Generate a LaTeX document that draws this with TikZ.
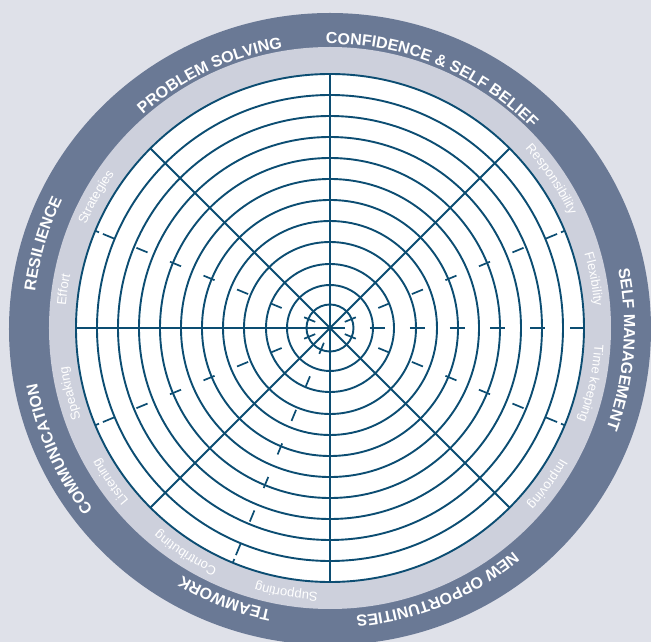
\documentclass[tikz,border=0pt]{standalone}
\usepackage{fontspec}
\setmainfont{Liberation Sans}
\usetikzlibrary{decorations.text}

\definecolor{pagebg}{HTML}{DFE1E9}
\definecolor{outerband}{HTML}{6A7995}
\definecolor{innerband}{HTML}{CDD0DC}
\definecolor{gridline}{HTML}{0C4D72}

\newcommand\catfont{\color{white}\fontsize{16}{16}\selectfont\bfseries}
\newcommand\subfont{\color{white}\fontsize{13}{13}\selectfont}

% text set clockwise along an arc centred on the given angle
% #1 font, #2 centre angle, #3 baseline radius, #4 text
\newcommand\ringtext[4]{%
  \path[decorate, decoration={text along path, text={|#1|#4}, text align=center}]
    ({#2+70}:#3pt) arc[start angle={#2+70}, end angle={#2-70}, radius=#3pt];}

\begin{document}
\begin{tikzpicture}[x=1pt, y=1pt,
  gridpen/.style={draw=gridline, line width=1.9pt},
  tickpen/.style={draw=gridline, line width=1.7pt}]

% page and bands
\fill[pagebg] (-330,-314) rectangle (321,328);
\useasboundingbox (-330,-314) rectangle (321,328);
\fill[outerband] (0,-1) ellipse [x radius=321pt, y radius=316pt];
\fill[innerband] (0,0) circle [radius=281pt];
\fill[white] (0,0) circle [radius=254pt];

% rating rings
\foreach \r in {254,233,212,191,170,149,128,107,86,64,43,23.5}
  \draw[gridpen] (0,0) circle [radius=\r pt];

% solid spokes
\foreach \a in {45,90,135,180,225,270,315}
  \draw[gridpen] (0,0) -- (\a:254pt);

% dashed spoke along the horizontal
\foreach \s in {0,40,80,120,160,200,240}
  \draw[tickpen] (0:{\s}) -- (0:{min(\s+15,254)});

% dashed spokes between the sub-skills
\foreach \a in {22.5,157.5,202.5,247.5,337.5}{
  \foreach \k in {0,...,6}
    \draw[tickpen] (\a:{16+36.3*\k}) -- (\a:{28+36.3*\k});
  \draw[tickpen] (\a:250pt) -- (\a:254pt);
}

% skill headings
\ringtext{\catfont}{115.4}{284}{PROBLEM SOLVING}
\ringtext{\catfont}{67.8}{284}{CONFIDENCE {\&} SELF BELIEF}
\ringtext{\catfont}{-4.2}{294}{SELF MANAGEMENT}
\ringtext{\catfont}{-67.7}{289}{NEW OPPORTUNITIES}
\ringtext{\catfont}{-111.3}{288}{TEAMWORK}
\ringtext{\catfont}{204}{298}{COMMUNICATION}
\ringtext{\catfont}{163.6}{297}{RESILIENCE}

% sub-skills
\ringtext{\subfont}{33.9}{265}{Responsibility}
\ringtext{\subfont}{10.5}{265}{Flexibility}
\ringtext{\subfont}{-12}{265}{Time keeping}
\ringtext{\subfont}{-35.7}{265}{Improving}
\ringtext{\subfont}{260.6}{265}{Supporting}
\ringtext{\subfont}{237.3}{265}{Contributing}
\ringtext{\subfont}{215}{265}{Listening}
\ringtext{\subfont}{194.2}{265}{Speaking}
\ringtext{\subfont}{171.8}{265}{Effort}
\ringtext{\subfont}{150.8}{265}{Strategies}

\end{tikzpicture}
\end{document}
